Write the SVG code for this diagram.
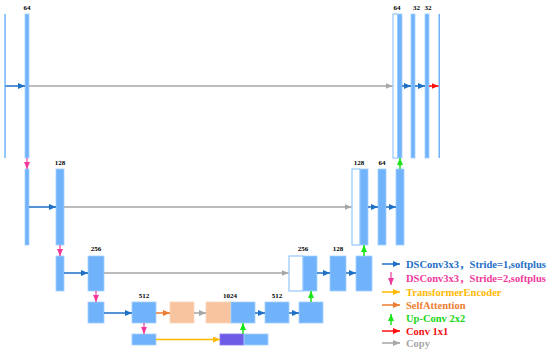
<svg xmlns="http://www.w3.org/2000/svg" width="550" height="352" viewBox="0 0 550 352">
<defs>
<style>
.bar{fill:#70B3FA;stroke:#A3D0FF;stroke-width:0.8}
.wbox{fill:#FFFFFF;stroke:#80BCFA;stroke-width:1}
.peach{fill:#F8C4A0;stroke:#FAD6BC;stroke-width:0.8}
.purple{fill:#6E5BE6;stroke:#8B7CF0;stroke-width:0.8}
.thin{fill:#70B3FA}
.lbl{font-family:"Liberation Serif",serif;font-weight:bold;font-size:7px;fill:#000;text-anchor:middle}
.leg{font-family:"Liberation Serif","Noto Sans CJK SC",serif;font-weight:bold;font-size:10.5px}
.c-blue{stroke:#1E6FC6;stroke-width:1.5;fill:none;marker-end:url(#mBlue)}
.c-pink{stroke:#F0399A;stroke-width:1.2;fill:none;marker-end:url(#mPink)}
.c-gray{stroke:#A6A6A6;stroke-width:1.5;fill:none;marker-end:url(#mGray)}
.c-green{stroke:#19E619;stroke-width:1.5;fill:none;marker-end:url(#mGreen)}
.c-red{stroke:#FF1010;stroke-width:1.5;fill:none;marker-end:url(#mRed)}
.c-orange{stroke:#ED7D31;stroke-width:1.5;fill:none;marker-end:url(#mOrange)}
.c-yellow{stroke:#FFB900;stroke-width:1.5;fill:none;marker-end:url(#mYellow)}
</style>
<marker id="mBlue" markerUnits="userSpaceOnUse" markerWidth="7" markerHeight="6" refX="7" refY="3" orient="auto"><path d="M0,0 L7,3 L0,6 z" fill="#1E6FC6"/></marker>
<marker id="mPink" markerUnits="userSpaceOnUse" markerWidth="7" markerHeight="6" refX="7" refY="3" orient="auto"><path d="M0,0 L7,3 L0,6 z" fill="#F0399A"/></marker>
<marker id="mGray" markerUnits="userSpaceOnUse" markerWidth="7" markerHeight="6" refX="7" refY="3" orient="auto"><path d="M0,0 L7,3 L0,6 z" fill="#A6A6A6"/></marker>
<marker id="mGreen" markerUnits="userSpaceOnUse" markerWidth="7" markerHeight="6" refX="7" refY="3" orient="auto"><path d="M0,0 L7,3 L0,6 z" fill="#19E619"/></marker>
<marker id="mRed" markerUnits="userSpaceOnUse" markerWidth="7" markerHeight="6" refX="7" refY="3" orient="auto"><path d="M0,0 L7,3 L0,6 z" fill="#FF1010"/></marker>
<marker id="mOrange" markerUnits="userSpaceOnUse" markerWidth="7" markerHeight="6" refX="7" refY="3" orient="auto"><path d="M0,0 L7,3 L0,6 z" fill="#ED7D31"/></marker>
<marker id="mYellow" markerUnits="userSpaceOnUse" markerWidth="7" markerHeight="6" refX="7" refY="3" orient="auto"><path d="M0,0 L7,3 L0,6 z" fill="#FFB900"/></marker>
</defs>
<rect width="550" height="352" fill="#FFFFFF"/>

<!-- Level 1 -->
<g id="input"><rect class="thin" x="4.3" y="14" width="1.5" height="144"/></g>
<g id="enc1"><rect class="bar" x="25" y="14" width="4" height="144"/><text class="lbl" x="27" y="9.5">64</text></g>
<g id="dec1a"><rect class="wbox" x="393" y="14" width="4.5" height="144"/><rect class="bar" x="397.5" y="14" width="4.5" height="144"/><text class="lbl" x="397" y="9.5">64</text></g>
<g id="dec1b"><rect class="bar" x="411" y="14" width="4" height="144"/><text class="lbl" x="416.5" y="9.5">32</text></g>
<g id="dec1c"><rect class="bar" x="425" y="14" width="4" height="144"/><text class="lbl" x="428" y="9.5">32</text></g>
<g id="output"><rect class="thin" x="438.5" y="14" width="1.5" height="144"/></g>

<!-- Level 2 -->
<g id="enc2a"><rect class="bar" x="25" y="169" width="4" height="76"/></g>
<g id="enc2b"><rect class="bar" x="56" y="169" width="8" height="76"/><text class="lbl" x="60" y="165">128</text></g>
<g id="dec2a"><rect class="wbox" x="352" y="169" width="8" height="76"/><rect class="bar" x="360" y="169" width="8" height="76"/><text class="lbl" x="359" y="165">128</text></g>
<g id="dec2b"><rect class="bar" x="378" y="169" width="8" height="76"/><text class="lbl" x="382" y="165">64</text></g>
<g id="dec2c"><rect class="bar" x="396" y="169" width="8" height="76"/></g>

<!-- Level 3 -->
<g id="enc3a"><rect class="bar" x="56" y="256" width="8" height="35"/></g>
<g id="enc3b"><rect class="bar" x="88" y="256" width="16" height="35"/><text class="lbl" x="96" y="251">256</text></g>
<g id="dec3a"><rect class="wbox" x="289" y="256" width="14" height="35"/><rect class="bar" x="303" y="256" width="14" height="35"/><text class="lbl" x="303" y="251">256</text></g>
<g id="dec3b"><rect class="bar" x="330" y="256" width="16" height="35"/><text class="lbl" x="338" y="251">128</text></g>
<g id="dec3c"><rect class="bar" x="356" y="256" width="16" height="35"/></g>

<!-- Level 4 -->
<g id="enc4a"><rect class="bar" x="88" y="302" width="16" height="21"/></g>
<g id="enc4b"><rect class="bar" x="132" y="302" width="24" height="21"/><text class="lbl" x="144" y="298">512</text></g>
<g id="selfattn"><rect class="peach" x="170" y="302" width="24" height="21"/></g>
<g id="bottleneck"><rect class="peach" x="206" y="302" width="25" height="21"/><rect class="bar" x="231" y="302" width="24" height="21"/><text class="lbl" x="230" y="298">1024</text></g>
<g id="dec4a"><rect class="bar" x="265" y="302" width="24" height="21"/><text class="lbl" x="277" y="298">512</text></g>
<g id="dec4b"><rect class="bar" x="299" y="302" width="24" height="21"/></g>

<!-- Level 5 -->
<g id="enc5"><rect class="bar" x="132" y="334" width="24" height="11"/></g>
<g id="transformer"><rect class="purple" x="220" y="334" width="24" height="11"/><rect class="bar" x="244" y="334" width="24" height="11"/></g>

<!-- Connectors -->
<g id="connectors">
<line class="c-blue" x1="5.5" y1="86" x2="25" y2="86"/>
<line class="c-gray" x1="29" y1="86" x2="392.5" y2="86"/>
<line class="c-blue" x1="402" y1="86" x2="411" y2="86"/>
<line class="c-blue" x1="415" y1="86" x2="425" y2="86"/>
<line class="c-red" x1="429" y1="86" x2="438.5" y2="86"/>

<line class="c-pink" x1="27" y1="158" x2="27" y2="169"/>
<line class="c-blue" x1="29" y1="207" x2="56" y2="207"/>
<line class="c-gray" x1="64" y1="207" x2="351.5" y2="207"/>
<line class="c-blue" x1="368" y1="207" x2="378" y2="207"/>
<line class="c-blue" x1="386" y1="207" x2="396" y2="207"/>
<line class="c-green" x1="400" y1="169" x2="400" y2="158"/>

<line class="c-pink" x1="60" y1="245" x2="60" y2="256"/>
<line class="c-blue" x1="64" y1="273" x2="88" y2="273"/>
<line class="c-gray" x1="104" y1="273" x2="288.5" y2="273"/>
<line class="c-blue" x1="317" y1="273" x2="330" y2="273"/>
<line class="c-blue" x1="346" y1="273" x2="356" y2="273"/>
<line class="c-green" x1="364" y1="256" x2="364" y2="245"/>

<line class="c-pink" x1="96" y1="291" x2="96" y2="302"/>
<line class="c-blue" x1="104" y1="313" x2="132" y2="313"/>
<line class="c-orange" x1="156" y1="313" x2="170" y2="313"/>
<line class="c-gray" x1="194" y1="313" x2="206" y2="313"/>
<line class="c-blue" x1="255" y1="313" x2="265" y2="313"/>
<line class="c-blue" x1="289" y1="313" x2="299" y2="313"/>
<line class="c-green" x1="311" y1="302" x2="311" y2="291"/>

<line class="c-pink" x1="144" y1="323" x2="144" y2="334"/>
<line class="c-yellow" x1="156" y1="339.5" x2="220" y2="339.5"/>
<line class="c-green" x1="243" y1="334" x2="243" y2="323"/>
</g>

<!-- Legend -->
<g id="legend">
<line class="c-blue" x1="382" y1="264" x2="400" y2="264"/>
<text class="leg" x="406" y="268" fill="#1E6FC6">DSConv3x3，Stride=1,softplus</text>
<line class="c-pink" x1="391" y1="272" x2="391" y2="285"/>
<text class="leg" x="406" y="281.5" fill="#F0399A">DSConv3x3，Stride=2,softplus</text>
<line class="c-yellow" x1="382" y1="292" x2="400" y2="292"/>
<text class="leg" x="406" y="296" fill="#FFB900">TransformerEncoder</text>
<line class="c-orange" x1="382" y1="305" x2="400" y2="305"/>
<text class="leg" x="406" y="309" fill="#ED7D31">SelfAttention</text>
<line class="c-green" x1="391" y1="325" x2="391" y2="314"/>
<text class="leg" x="406" y="322" fill="#19D619">Up-Conv 2x2</text>
<line class="c-red" x1="382" y1="331" x2="400" y2="331"/>
<text class="leg" x="406" y="335" fill="#F01010">Conv 1x1</text>
<line class="c-gray" x1="382" y1="343" x2="400" y2="343"/>
<text class="leg" x="406" y="347" fill="#A6A6A6">Copy</text>
</g>
</svg>
